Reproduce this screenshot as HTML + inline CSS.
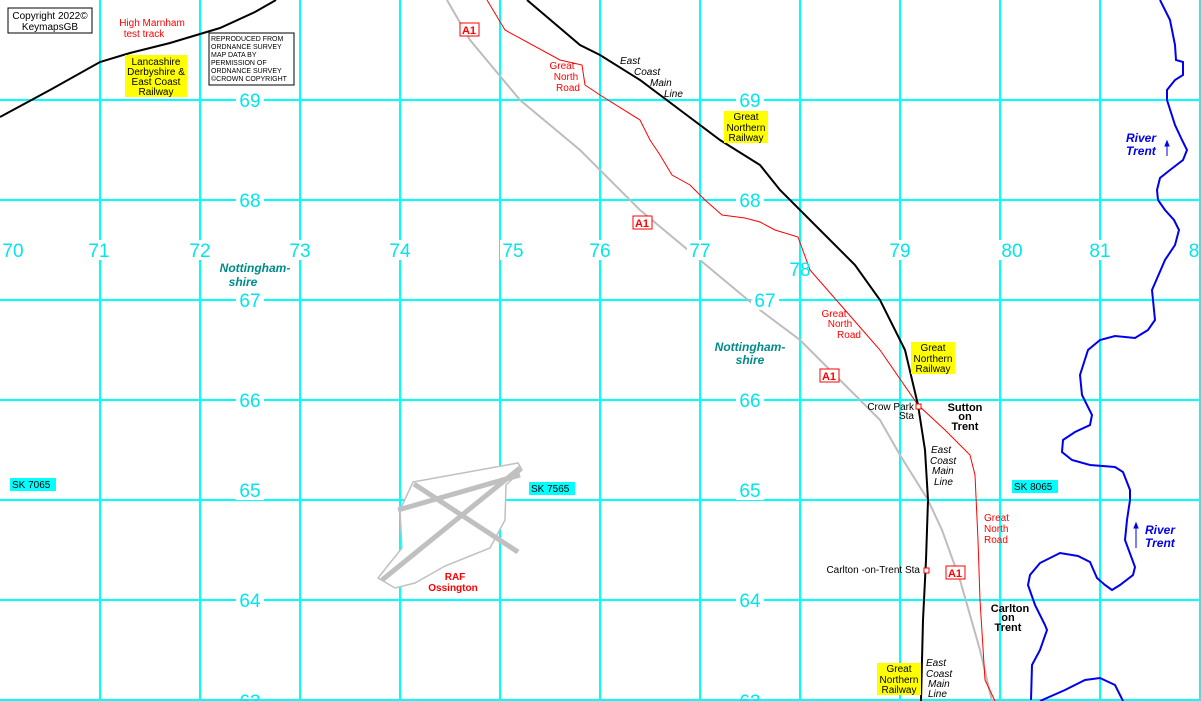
<!DOCTYPE html>
<html><head><meta charset="utf-8"><style>
html,body{margin:0;padding:0;background:#fff}
svg{display:block}
text{font-family:"Liberation Sans",Arial,sans-serif}
.g{fill:#00e5ee;font-size:19px;text-anchor:middle}
.s{font-size:10px;fill:#000}
.r{font-size:10px;fill:#f00;font-family:"Liberation Serif",serif}
.i{font-size:10px;font-style:italic;fill:#000}
.b{font-size:11px;font-weight:bold;fill:#000;text-anchor:middle}
</style></head><body>
<svg width="1201" height="701" viewBox="0 0 1201 701" xmlns="http://www.w3.org/2000/svg">
<rect width="1201" height="701" fill="#fff"/>
<g stroke="#00ffff" stroke-width="2">
<line x1="100" y1="0" x2="100" y2="701"/><line x1="200" y1="0" x2="200" y2="701"/><line x1="300" y1="0" x2="300" y2="701"/><line x1="400" y1="0" x2="400" y2="701"/><line x1="500" y1="0" x2="500" y2="701"/><line x1="600" y1="0" x2="600" y2="701"/><line x1="700" y1="0" x2="700" y2="701"/><line x1="800" y1="0" x2="800" y2="701"/><line x1="900" y1="0" x2="900" y2="701"/><line x1="1000" y1="0" x2="1000" y2="701"/><line x1="1100" y1="0" x2="1100" y2="701"/><line x1="1200" y1="0" x2="1200" y2="701"/>
<line x1="0" y1="100" x2="1201" y2="100"/><line x1="0" y1="200" x2="1201" y2="200"/><line x1="0" y1="300" x2="1201" y2="300"/><line x1="0" y1="400" x2="1201" y2="400"/><line x1="0" y1="500" x2="1201" y2="500"/><line x1="0" y1="600" x2="1201" y2="600"/><line x1="0" y1="700" x2="1201" y2="700"/>
</g>
<!-- airfield -->
<path d="M413,482 L518,463 L522,470 L506,485 L505,520 L490,548 L445,566 L415,583 L395,588 L378,578 L402,548 L400,510 Z" fill="#fff" stroke="#c0c0c0" stroke-width="1.5"/>
<g stroke="#c0c0c0" stroke-width="5"><line x1="382" y1="580" x2="520" y2="468"/><line x1="414" y1="484" x2="518" y2="552"/><line x1="398" y1="510" x2="520" y2="475"/></g>
<!-- A1 grey -->
<polyline fill="none" stroke="#bdbdbd" stroke-width="2" points="447,0 470,40 520,100 580,150 640,210 700,260 760,310 800,340 840,380 880,420 900,455 928,500 942,530 960,580 980,650 992,701"/>
<!-- Great North Road red -->
<polyline fill="none" stroke="#f00" stroke-width="1" points="487,0 505,30 560,60 582,65 585,85 600,95 640,120 650,140 660,155 672,175 690,185 705,200 722,215 745,218 760,222 775,230 798,237 810,270 845,310 880,350 918,405 945,430 970,455 975,475 978,540 980,600 985,680 995,701"/>
<!-- ECML black -->
<polyline fill="none" stroke="#000" stroke-width="2" points="527,0 580,45 600,55 640,80 680,110 720,140 760,165 780,190 820,230 855,265 880,300 905,350 918,405 925,450 928,500 926,560 923,620 921,701"/>
<!-- LD&EC -->
<polyline fill="none" stroke="#000" stroke-width="2" points="0,117 50,90 100,62 130,53 170,43 220,28 255,12 276,0"/>
<!-- River -->
<polyline fill="none" stroke="#0000ee" stroke-width="2" points="1160,0 1170,20 1175,45 1176,60 1183,62 1183,75 1175,80 1167,90 1167,100 1175,125 1182,140 1187,150 1183,160 1170,170 1160,178 1157,190 1158,200 1165,210 1174,220 1179,230 1175,245 1165,260 1152,290 1153,300 1155,320 1148,330 1135,338 1115,336 1100,340 1088,350 1080,375 1082,395 1092,415 1090,425 1075,432 1063,440 1062,452 1072,460 1090,465 1115,467 1123,472 1130,490 1130,500 1127,520 1125,540 1135,567 1133,575 1120,585 1112,590 1105,585 1097,578 1090,562 1078,556 1060,553 1040,563 1030,575 1028,585 1035,605 1045,625 1047,630 1040,650 1032,665 1031,700"/>
<polyline fill="none" stroke="#0000ee" stroke-width="2" points="1040,701 1065,690 1085,680 1100,678 1115,685 1123,701"/>
<!-- grid labels -->
<g class="g">
<rect x="0" y="240" width="26" height="20" fill="#fff"/><text x="13" y="257">70</text>
<rect x="86" y="240" width="26" height="20" fill="#fff"/><text x="99" y="257">71</text>
<rect x="187" y="240" width="26" height="20" fill="#fff"/><text x="200" y="257">72</text>
<rect x="287" y="240" width="26" height="20" fill="#fff"/><text x="300" y="257">73</text>
<rect x="387" y="240" width="26" height="20" fill="#fff"/><text x="400" y="257">74</text>
<rect x="500" y="240" width="26" height="20" fill="#fff"/><text x="513" y="257">75</text>
<rect x="587" y="240" width="26" height="20" fill="#fff"/><text x="600" y="257">76</text>
<rect x="687" y="240" width="26" height="20" fill="#fff"/><text x="700" y="257">77</text>
<text x="800" y="276">78</text>
<rect x="887" y="240" width="26" height="20" fill="#fff"/><text x="900" y="257">79</text>
<rect x="999" y="240" width="26" height="20" fill="#fff"/><text x="1012" y="257">80</text>
<rect x="1087" y="240" width="26" height="20" fill="#fff"/><text x="1100" y="257">81</text>
<text x="1194" y="257">8</text>
<rect x="236" y="90" width="28" height="20" fill="#fff"/><text x="250" y="107">69</text>
<rect x="736" y="90" width="28" height="20" fill="#fff"/><text x="750" y="107">69</text>
<rect x="236" y="190" width="28" height="20" fill="#fff"/><text x="250" y="207">68</text>
<rect x="736" y="190" width="28" height="20" fill="#fff"/><text x="750" y="207">68</text>
<rect x="236" y="290" width="28" height="20" fill="#fff"/><text x="250" y="307">67</text>
<rect x="751" y="290" width="28" height="20" fill="#fff"/><text x="765" y="307">67</text>
<rect x="236" y="390" width="28" height="20" fill="#fff"/><text x="250" y="407">66</text>
<rect x="736" y="390" width="28" height="20" fill="#fff"/><text x="750" y="407">66</text>
<rect x="236" y="480" width="28" height="20" fill="#fff"/><text x="250" y="497">65</text>
<rect x="736" y="480" width="28" height="20" fill="#fff"/><text x="750" y="497">65</text>
<rect x="236" y="590" width="28" height="20" fill="#fff"/><text x="250" y="607">64</text>
<rect x="736" y="590" width="28" height="20" fill="#fff"/><text x="750" y="607">64</text>
<text x="250" y="708">63</text><text x="750" y="708">63</text>
</g>
<!-- SK labels -->
<g font-size="11">
<rect x="10" y="478" width="46" height="13" fill="#00ffff"/><text x="12" y="488" class="s" font-size="11">SK 7065</text>
<rect x="529" y="482" width="46" height="13" fill="#00ffff"/><text x="531" y="492" class="s" font-size="11">SK 7565</text>
<rect x="1012" y="480" width="46" height="13" fill="#00ffff"/><text x="1014" y="490" class="s" font-size="11">SK 8065</text>
</g>
<!-- copyright boxes -->
<rect x="8" y="8" width="84" height="25" fill="#fff" stroke="#000"/>
<text x="50" y="19" class="s" text-anchor="middle">Copyright 2022©</text>
<text x="50" y="30" class="s" text-anchor="middle">KeymapsGB</text>
<rect x="209" y="33" width="85" height="52" fill="#fff" stroke="#000"/>
<g font-size="7" fill="#000"><text x="211" y="41">REPRODUCED FROM</text><text x="211" y="49">ORDNANCE SURVEY</text><text x="211" y="57">MAP DATA BY</text><text x="211" y="65">PERMISSION OF</text><text x="211" y="73">ORDNANCE SURVEY</text><text x="211" y="81">©CROWN COPYRIGHT</text></g>
<text x="152" y="26" font-size="10" fill="#f00" text-anchor="middle">High Marnham</text>
<text x="144" y="37" font-size="10" fill="#f00" text-anchor="middle">test track</text>
<!-- yellow labels -->
<rect x="125" y="55" width="62" height="42" fill="#ffff00"/>
<g class="s" text-anchor="middle"><text x="156" y="65">Lancashire</text><text x="156" y="75">Derbyshire &amp;</text><text x="156" y="85">East Coast</text><text x="156" y="95">Railway</text></g>
<rect x="724" y="111" width="44" height="32" fill="#ffff00"/>
<g class="s" text-anchor="middle"><text x="746" y="120">Great</text><text x="746" y="131">Northern</text><text x="746" y="141">Railway</text></g>
<rect x="911" y="342" width="44" height="32" fill="#ffff00"/>
<g class="s" text-anchor="middle"><text x="933" y="351">Great</text><text x="933" y="362">Northern</text><text x="933" y="372">Railway</text></g>
<rect x="877" y="663" width="44" height="32" fill="#ffff00"/>
<g class="s" text-anchor="middle"><text x="899" y="672">Great</text><text x="899" y="683">Northern</text><text x="899" y="693">Railway</text></g>
<!-- A1 shields -->
<g font-size="11" font-weight="bold" fill="#f00" text-anchor="middle">
<rect x="460" y="23" width="19" height="13" fill="#fff" stroke="#f00"/><text x="469" y="34">A1</text>
<rect x="633" y="216" width="19" height="13" fill="#fff" stroke="#f00"/><text x="642" y="227">A1</text>
<rect x="820" y="369" width="19" height="13" fill="#fff" stroke="#f00"/><text x="829" y="380">A1</text>
<rect x="946" y="566" width="19" height="13" fill="#fff" stroke="#f00"/><text x="955" y="577">A1</text>
</g>
<!-- Great North Road labels -->
<g class="r" text-anchor="middle"><text x="562" y="69">Great</text><text x="566" y="80">North</text><text x="568" y="91">Road</text>
<text x="834" y="317">Great</text><text x="840" y="327">North</text><text x="849" y="338">Road</text></g>
<g class="r"><text x="984" y="521">Great</text><text x="984" y="532">North</text><text x="984" y="543">Road</text></g>
<!-- ECML labels -->
<g class="i"><text x="620" y="64">East</text><text x="634" y="75">Coast</text><text x="650" y="86">Main</text><text x="664" y="97">Line</text>
<text x="931" y="453">East</text><text x="930" y="464">Coast</text><text x="932" y="474">Main</text><text x="934" y="485">Line</text>
<text x="926" y="666">East</text><text x="926" y="677">Coast</text><text x="928" y="687">Main</text><text x="928" y="697">Line</text></g>
<!-- Stations -->
<rect x="916" y="404" width="5" height="5" fill="#fff" stroke="#f00"/>
<rect x="924" y="568" width="5" height="5" fill="#fff" stroke="#f00"/>
<text x="914" y="410" class="s" text-anchor="end">Crow Park</text>
<text x="914" y="419" class="s" text-anchor="end">Sta</text>
<text x="920" y="573" class="s" text-anchor="end">Carlton -on-Trent Sta</text>
<text x="965" y="411" class="b">Sutton</text><text x="965" y="420" class="b">on</text><text x="965" y="430" class="b">Trent</text>
<text x="1010" y="612" class="b">Carlton</text><text x="1008" y="621" class="b">on</text><text x="1008" y="631" class="b">Trent</text>
<text x="455" y="580" font-size="10" font-weight="bold" fill="#f00" text-anchor="middle">RAF</text>
<text x="453" y="591" font-size="10" font-weight="bold" fill="#f00" text-anchor="middle">Ossington</text>
<!-- Nottinghamshire -->
<g font-size="12" font-weight="bold" font-style="italic" fill="#008b8b" text-anchor="middle">
<text x="255" y="272">Nottingham-</text><text x="243" y="286">shire</text>
<text x="750" y="351">Nottingham-</text><text x="750" y="364">shire</text></g>
<!-- River labels -->
<g font-size="12" font-weight="bold" font-style="italic" fill="#0000ee">
<text x="1126" y="142">River</text><text x="1126" y="155">Trent</text>
<text x="1145" y="534">River</text><text x="1145" y="547">Trent</text></g>
<g stroke="#0000ee" stroke-width="1" fill="#0000ee">
<line x1="1167" y1="156" x2="1167" y2="143"/><path d="M1165,146 L1167,141 L1169,146 Z"/>
<line x1="1136" y1="548" x2="1136" y2="525"/><path d="M1134,528 L1136,523 L1138,528 Z"/>
</g>
</svg>
</body></html>
